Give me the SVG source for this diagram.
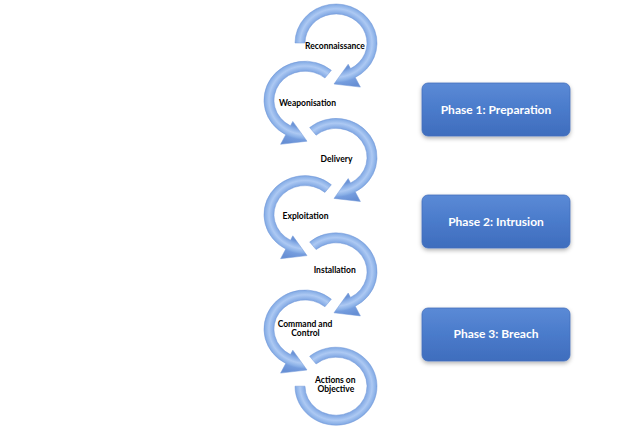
<svg xmlns="http://www.w3.org/2000/svg" xmlns:xlink="http://www.w3.org/1999/xlink" width="640" height="428" viewBox="0 0 640 428">
  <defs>
    <radialGradient id="ringGrad" gradientUnits="userSpaceOnUse" cx="0" cy="0" r="48" gradientTransform="scale(1,0.95)">
      <stop offset="0" stop-color="#6a92d6"/>
      <stop offset="0.6" stop-color="#6c94d7"/>
      <stop offset="0.66" stop-color="#88ade6"/>
      <stop offset="0.75" stop-color="#adc9f3"/>
      <stop offset="0.83" stop-color="#8ab0e7"/>
      <stop offset="0.87" stop-color="#759dde"/>
      <stop offset="1" stop-color="#678fd4"/>
    </radialGradient>
    <linearGradient id="boxGrad" x1="0" y1="0" x2="0" y2="1">
      <stop offset="0" stop-color="#5b8ad6"/>
      <stop offset="0.5" stop-color="#4a7bcb"/>
      <stop offset="1" stop-color="#3f6dbd"/>
    </linearGradient>
    <filter id="shadow" x="-10%" y="-20%" width="120%" height="150%">
      <feDropShadow dx="0" dy="2" stdDeviation="2" flood-color="#000" flood-opacity="0.3"/>
    </filter>
    <path id="arcStd" d="M -26.35 -29.87 A 41 39 0 1 1 19.25 34.43 L 24.4 44.1 L -2 41 L 12.2 21.2 L 14.55 25.6 A 31 29 0 1 0 -19.93 -22.21 Z"/>
    <path id="arcFirst" d="M -41 0 A 41 39 0 1 1 19.25 34.43 L 24.4 44.1 L -2 41 L 12.2 21.2 L 14.55 25.6 A 31 29 0 1 0 -31 0 Z"/>
    <path id="arcLast" d="M -26.35 -29.87 A 41 39 0 1 1 -41 0 L -31 0 A 31 29 0 1 0 -19.93 -22.21 Z"/>
  </defs>
  <style>
    .ring { fill: url(#ringGrad); stroke: #7399d8; stroke-width: 0.5; }
    .lbl { font-family: Lato, "Liberation Sans", sans-serif; font-weight: bold; font-size: 8.5px; fill: #000; text-anchor: middle; }
    .box { fill: url(#boxGrad); stroke: #4470bd; stroke-width: 0.8; filter: url(#shadow); }
    .boxtxt { font-family: Lato, "Liberation Sans", sans-serif; font-weight: bold; font-size: 12px; fill: #fff; text-anchor: middle; }
  </style>
  <rect width="640" height="428" fill="#ffffff"/>

  <g id="connectors">
    <use xlink:href="#arcFirst" class="ring" transform="translate(336,43)"/>
    <use xlink:href="#arcStd" class="ring" transform="translate(305,100.2) scale(-1,1)"/>
    <use xlink:href="#arcStd" class="ring" transform="translate(336,157.4)"/>
    <use xlink:href="#arcStd" class="ring" transform="translate(305,214.6) scale(-1,1)"/>
    <use xlink:href="#arcStd" class="ring" transform="translate(336,271.8)"/>
    <use xlink:href="#arcStd" class="ring" transform="translate(305,329) scale(-1,1)"/>
    <use xlink:href="#arcLast" class="ring" transform="translate(336,386.2)"/>
  </g>

  <g id="node-reconnaissance"><text class="lbl" x="335" y="48.7">Reconnaissance</text></g>
  <g id="node-weaponisation"><text class="lbl" x="307.5" y="106.2">Weaponisation</text></g>
  <g id="node-delivery"><text class="lbl" x="336.5" y="162.2">Delivery</text></g>
  <g id="node-exploitation"><text class="lbl" x="305.5" y="219">Exploitation</text></g>
  <g id="node-installation"><text class="lbl" x="334.7" y="273">Installation</text></g>
  <g id="node-c2"><text class="lbl" x="305" y="327.2">Command and</text><text class="lbl" x="305.5" y="336">Control</text></g>
  <g id="node-actions"><text class="lbl" x="335.3" y="383">Actions on</text><text class="lbl" x="335.8" y="392.2">Objective</text></g>

  <g id="phase1"><rect class="box" x="422" y="83" width="148" height="53" rx="6"/><text class="boxtxt" x="496" y="113.5">Phase 1: Preparation</text></g>
  <g id="phase2"><rect class="box" x="422" y="195" width="148" height="53" rx="6"/><text class="boxtxt" x="496" y="225.8">Phase 2: Intrusion</text></g>
  <g id="phase3"><rect class="box" x="422" y="308" width="148" height="53" rx="6"/><text class="boxtxt" x="496" y="338.2">Phase 3: Breach</text></g>
</svg>
